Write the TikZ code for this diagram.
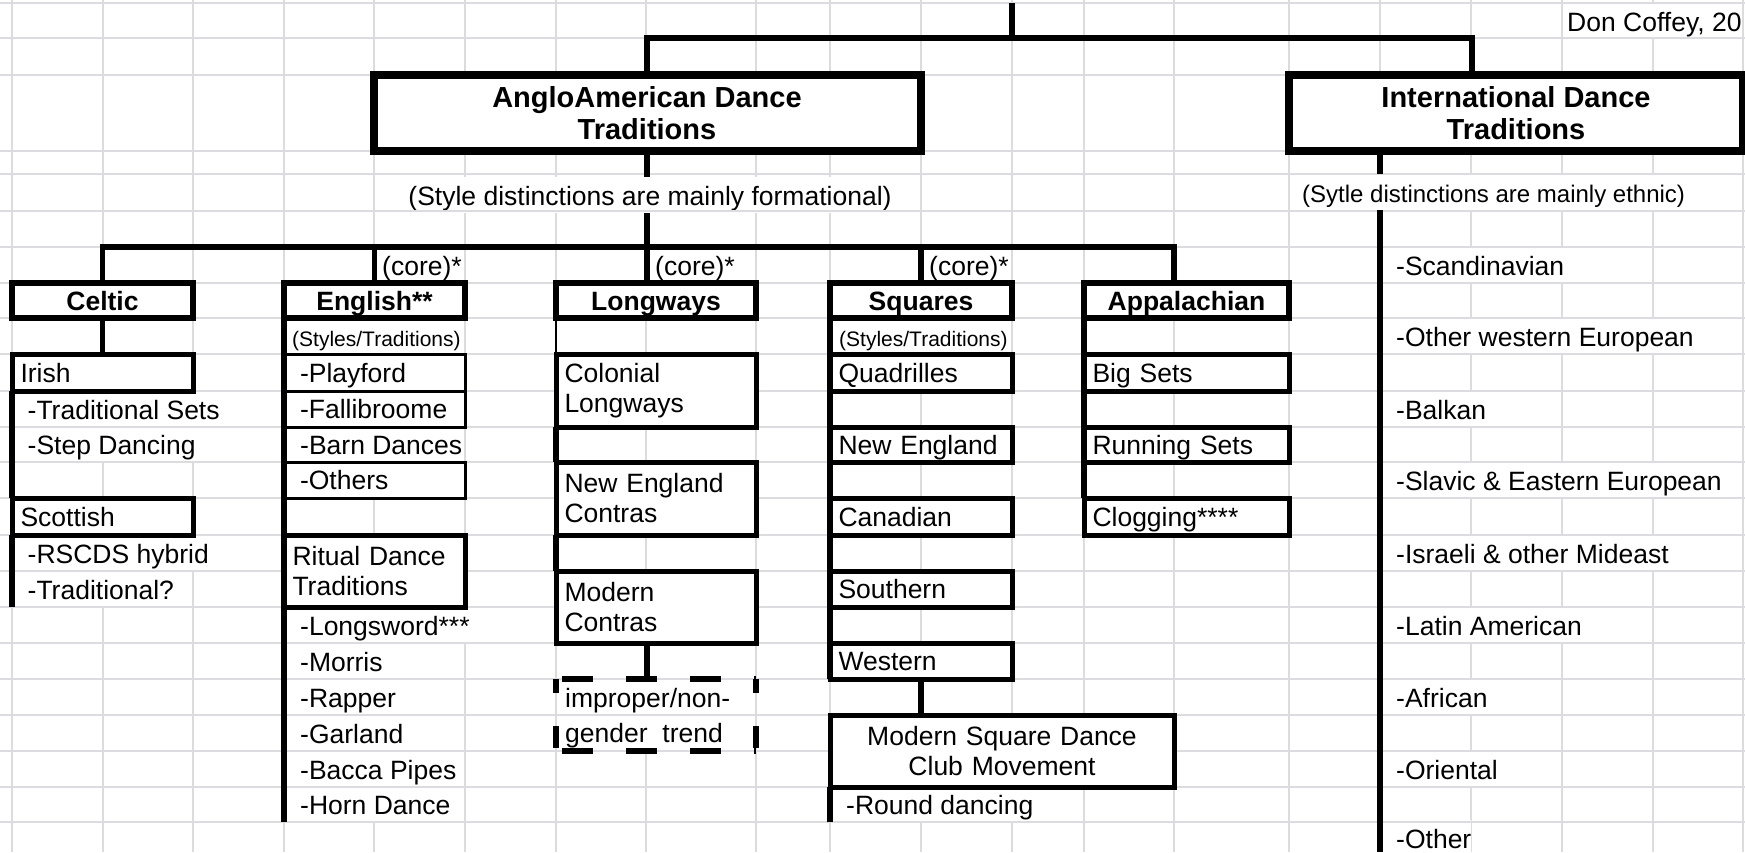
\documentclass[tikz,border=0pt]{standalone}
\usepackage{fontspec}
\setmainfont{Liberation Sans}
\definecolor{gridgray}{RGB}{218,220,224}

\begin{document}
\begin{tikzpicture}[x=1pt, y=-1pt,
  gridl/.style={draw=gridgray, line width=1.2pt},
  conn/.style={line width=5.5pt},
  thinconn/.style={line width=2pt},
  oneline/.style={text height=19pt, text depth=0pt},
  topbox/.style={draw, line width=8pt, fill=white, inner sep=0pt, outer sep=0pt, align=center, minimum height=76pt, font=\fontsize{29}{32}\selectfont\bfseries},
  headbox/.style={draw, line width=6pt, fill=white, inner sep=0pt, outer sep=0pt, minimum height=35pt, oneline, font=\fontsize{26.5}{30}\selectfont\bfseries},
  subbox/.style={draw, line width=5pt, fill=white, inner xsep=8.5pt, inner ysep=0pt, outer sep=0pt, align=left, font=\fontsize{26.5}{30}\selectfont},
  listbox/.style={draw, line width=3pt, fill=white, inner xsep=16pt, inner ysep=0pt, outer sep=0pt, text width=149pt, align=left, oneline, font=\fontsize{26.5}{30}\selectfont},
  item/.style={anchor=base west, fill=white, inner sep=0pt, text height=28pt, text depth=8pt, font=\fontsize{26.5}{30}\selectfont},
  note/.style={item, font=\fontsize{21}{24}\selectfont},
  dashtop/.style={line width=5.5pt, dash pattern=on 31pt off 33pt, dash phase=58pt},
  dashside/.style={line width=5.5pt, dash pattern=on 14pt off 33pt on 22pt off 100pt},
]
\useasboundingbox (0,0) rectangle (1745,852);
\fill[white] (0,0) rectangle (1745,852);

% sheet columns
\foreach \gx in {12,103,193,284,374,465,556,646,756,830,921,1012,1084,1174,1289,1380,1471,1562,1653,1743}
  \draw[gridl] (\gx,0) -- (\gx,852);

% cell texts (they hide the column lines they run over)
\node[item] (donc) at (1567,31) {Don Coffey, 20};
\node[item, anchor=base] (formal) at (650,205) {(Style distinctions are mainly formational)};
\node[item, font=\fontsize{24}{28}\selectfont] (ethnic) at (1302,202) {(Sytle distinctions are mainly ethnic)};
\node[item] (core1) at (382,275) {(core)*};
\node[item] (core2) at (655,275) {(core)*};
\node[item] (core3) at (929,275) {(core)*};
\node[note] (engstyles) at (292,346.5) {(Styles/Traditions)};
\node[note] (sqstyles) at (839,346.5) {(Styles/Traditions)};

\node[item] (tradsets) at (27.5,419.5) {-Traditional Sets};
\node[item] (stepd) at (27.5,454.5) {-Step Dancing};
\node[item] (rscds) at (27.5,563.5) {-RSCDS hybrid};
\node[item] (tradq) at (27.5,599.5) {-Traditional?};

\node[item] (barn) at (300,454.5) {-Barn Dances};
\node[item] (longsw) at (300,635.5) {-Longsword***};
\node[item] (morris) at (300,671.5) {-Morris};
\node[item] (rapper) at (300,707.5) {-Rapper};
\node[item] (garland) at (300,743.5) {-Garland};
\node[item] (bacca) at (300,779.5) {-Bacca Pipes};
\node[item] (horn) at (300,814.5) {-Horn Dance};

\node[item] (impr1) at (565,707) {improper/non-};
\node[item] (impr2) at (565,742.5) {gender\ \ trend};

\node[item] (round) at (846,814.5) {-Round dancing};

\node[item] (scand) at (1396,275.5) {-Scandinavian};
\node[item] (westeu) at (1396,346.5) {-Other western European};
\node[item] (balkan) at (1396,419.5) {-Balkan};
\node[item] (slavic) at (1396,490.5) {-Slavic \& Eastern European};
\node[item] (israeli) at (1396,563.5) {-Israeli \& other Mideast};
\node[item] (latin) at (1396,635.5) {-Latin American};
\node[item] (african) at (1396,707.5) {-African};
\node[item] (oriental) at (1396,779.5) {-Oriental};
\node[item] (other) at (1396,848) {-Other};

% sheet rows
\foreach \gy in {3,38,75,151,174,211,247,283,318,354,391,427,462,498,535,571,607,643,679,715,751,787,822}
  \draw[gridl] (0,\gy) -- (1745,\gy);

% main boxes
\node[topbox, minimum width=547pt] (anglo) at (647,113) {AngloAmerican Dance\\Traditions};
\node[topbox, minimum width=454pt] (intl) at (1516,113) {International Dance\\Traditions};

\node[headbox, minimum width=181pt] (celtic) at (102.5,300.5) {Celtic};
\node[headbox, minimum width=181pt] (english) at (374.5,300.5) {English**};
\node[headbox, minimum width=200pt] (longways) at (656,300.5) {Longways};
\node[headbox, minimum width=182pt] (squares) at (921,300.5) {Squares};
\node[headbox, minimum width=205pt] (appal) at (1186.5,300.5) {Appalachian};

% Celtic
\node[subbox, oneline, text width=164pt, minimum height=37pt] (irish) at (102.5,372.5) {Irish};
\node[subbox, oneline, text width=164pt, minimum height=37pt] (scottish) at (102.5,516.5) {Scottish};

% English
\node[listbox, minimum height=37pt] (playford) at (374.5,372.5) {-Playford};
\node[listbox, minimum height=36pt] (fallib) at (374.5,409) {-Fallibroome};
\node[listbox, minimum height=36pt] (others) at (374.5,480) {-Others};
\node[subbox, text width=164pt, minimum height=72pt] (ritual) at (374.5,571) {Ritual Dance\\Traditions};

% Longways
\node[subbox, text width=183pt, minimum height=73pt] (colonial) at (656,390.5) {Colonial\\Longways};
\node[subbox, text width=183pt, minimum height=73pt] (necontra) at (656,498.5) {New England\\Contras};
\node[subbox, text width=183pt, minimum height=72pt] (modcontra) at (656,607) {Modern\\Contras};
\node[minimum width=200pt, minimum height=72pt, inner sep=0pt, outer sep=0pt] (improper) at (656,715) {};
\draw[dashtop] (improper.north west) -- (improper.north east);
\draw[dashtop] (improper.south west) -- (improper.south east);
\draw[dashside] (improper.north west) -- (improper.south west);
\draw[dashside] (improper.north east) -- (improper.south east);

% Squares
\node[subbox, oneline, text width=165pt, minimum height=37pt] (quad) at (921,372.5) {Quadrilles};
\node[subbox, oneline, text width=165pt, minimum height=35pt] (nesq) at (921,444.5) {New England};
\node[subbox, oneline, text width=165pt, minimum height=37pt] (canad) at (921,516.5) {Canadian};
\node[subbox, oneline, text width=165pt, minimum height=36pt] (south) at (921,589) {Southern};
\node[subbox, oneline, text width=165pt, minimum height=36pt] (western) at (921,661) {Western};
\node[subbox, align=center, text width=327pt, minimum height=72pt] (modsq) at (1002,751) {Modern Square Dance\\Club Movement};

% Appalachian
\node[subbox, oneline, text width=188pt, minimum height=37pt] (bigsets) at (1186.5,372.5) {Big Sets};
\node[subbox, oneline, text width=188pt, minimum height=35pt] (running) at (1186.5,444.5) {Running Sets};
\node[subbox, oneline, text width=188pt, minimum height=37pt] (clog) at (1186.5,516.5) {Clogging****};

% tree lines
\coordinate (root) at (1012,3);
\coordinate (rootbar) at (1012,38);
\coordinate (intltop) at (1472,75);
\coordinate (bar) at (647,247);
\coordinate (barend) at (1174,247);
\coordinate (intlstem) at (1380,151);
\coordinate (celticend) at (12,607);
\coordinate (englishend) at (284,822);
\coordinate (sqend) at (830,822);
\coordinate (intlend) at (1380,852);

\draw[conn] (root) -- (rootbar);
\draw[conn] (anglo.north) |- (rootbar) -| (intltop);

\draw[conn] (anglo.south) -- (anglo.south |- formal.north);
\draw[conn] (anglo.south |- formal.south) -- (bar);
\draw[conn] (celtic.north) |- (barend) -- (barend |- appal.north);
\draw[conn] (english.north) -- (english.north |- bar);
\draw[conn] (bar) -- (bar |- longways.north);
\draw[conn] (squares.north) -- (squares.north |- bar);

\draw[conn] (celtic) -- (irish);
\draw[conn] (irish.south west) -- (scottish.north west);
\draw[conn] (scottish.south west) -- (celticend);

\draw[conn] (english.south west) -- (englishend);

\draw[thinconn] (longways.south west) -- (colonial.north west);
\draw[conn] (colonial.south west) -- (necontra.north west);
\draw[conn] (necontra.south west) -- (modcontra.north west);
\draw[conn] (bar |- modcontra.south) -- (bar |- improper.north);

\draw[conn] (squares.south west) -- (western.south west);
\draw[conn] (western.south) -- (western.south |- modsq.north);
\draw[conn] (modsq.south west) -- (sqend);

\draw[conn] (appal.south west) -- (clog.north west);

\draw[conn] (intlstem) -- (intlstem |- ethnic.north);
\draw[conn] (intlstem |- ethnic.south) -- (intlend);

\end{tikzpicture}
\end{document}
